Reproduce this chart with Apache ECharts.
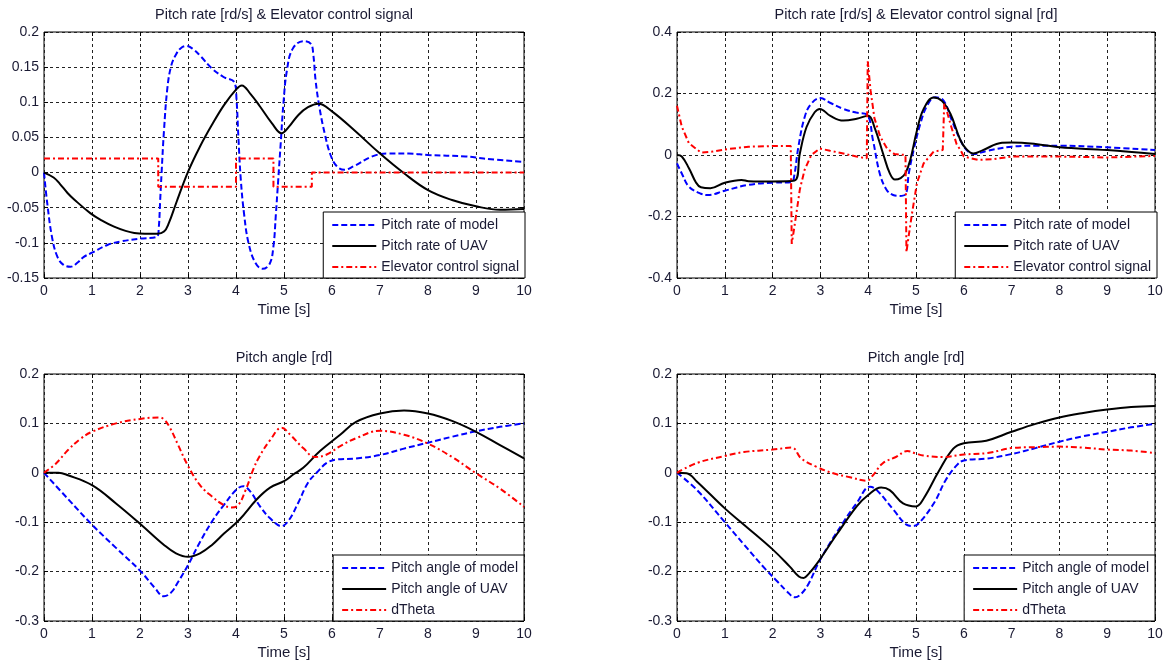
<!DOCTYPE html>
<html>
<head>
<meta charset="utf-8">
<script src="https://cdn.jsdelivr.net/npm/echarts@6/dist/echarts.min.js"></script>
<style>
html,body{margin:0;padding:0;background:#fff;}
#chart{width:1170px;height:664px;}
</style>
</head>
<body>
<div id="chart"></div>
<script>
// ---- tick labels ----
const xTicks = [0,1,2,3,4,5,6,7,8,9,10];
const yTicksTopLeft = [-0.15,-0.1,-0.05,0,0.05,0.1,0.15,0.2];
const yTicksTopRight = [-0.4,-0.2,0,0.2,0.4];
const yTicksBottom = [-0.3,-0.2,-0.1,0,0.1,0.2];

// ---- titles / legend names ----
const titles = ['Pitch rate [rd/s] & Elevator control signal','Pitch rate [rd/s] & Elevator control signal [rd]','Pitch angle [rd]','Pitch angle [rd]'];
const xName = 'Time [s]';
const rateNames = ['Pitch rate of model','Pitch rate of UAV','Elevator control signal'];
const angleNames = ['Pitch angle of model','Pitch angle of UAV','dTheta'];

// ---- top-left: pitch rate & elevator ----
const tlModel = [[0,0],[0.07,-0.045],[0.17,-0.093],[0.28,-0.12],[0.4,-0.131],[0.55,-0.134],[0.7,-0.128],[0.83,-0.12],[1,-0.114],[1.32,-0.103],[1.6,-0.098],[2,-0.094],[2.36,-0.091],[2.39,-0.08],[2.42,-0.04],[2.45,0],[2.5,0.06],[2.57,0.12],[2.65,0.152],[2.75,0.168],[2.85,0.177],[2.97,0.18],[3.1,0.176],[3.27,0.165],[3.5,0.148],[3.74,0.136],[3.97,0.128],[4.01,0.105],[4.05,0.05],[4.1,-0.01],[4.17,-0.06],[4.26,-0.1],[4.4,-0.128],[4.55,-0.137],[4.7,-0.13],[4.78,-0.105],[4.83,-0.06],[4.88,-0.01],[4.93,0.04],[4.99,0.1],[5.06,0.145],[5.18,0.176],[5.4,0.187],[5.56,0.183],[5.61,0.168],[5.66,0.13],[5.74,0.092],[5.85,0.055],[5.97,0.025],[6.1,0.009],[6.26,0.004],[6.45,0.009],[6.84,0.023],[7.15,0.027],[7.6,0.027],[8,0.025],[8.78,0.023],[9.16,0.02],[10,0.015]];
const tlUav = [[0,0],[0.2,-0.007],[0.33,-0.016],[0.49,-0.029],[0.64,-0.039],[0.97,-0.058],[1.2,-0.068],[1.46,-0.077],[1.7,-0.083],[1.88,-0.086],[2.1,-0.087],[2.36,-0.087],[2.5,-0.084],[2.6,-0.072],[2.75,-0.044],[3,0.001],[3.25,0.037],[3.5,0.068],[3.75,0.096],[4,0.118],[4.12,0.124],[4.3,0.112],[4.5,0.094],[4.75,0.07],[4.95,0.056],[5.1,0.065],[5.3,0.082],[5.5,0.093],[5.72,0.098],[6,0.087],[6.5,0.058],[7,0.027],[7.5,-0.001],[8,-0.025],[8.5,-0.039],[9,-0.048],[9.5,-0.053],[10,-0.052]];
const tlElev = [[0,0.02],[2.38,0.02],[2.38,-0.02],[4.0,-0.02],[4.0,0.02],[4.78,0.02],[4.78,-0.02],[5.58,-0.02],[5.58,0],[10,0]];

// ---- top-right ----
const trModel = [[0,-0.027],[0.1,-0.06],[0.25,-0.103],[0.5,-0.126],[0.65,-0.13],[1,-0.116],[1.5,-0.097],[2,-0.09],[2.4,-0.088],[2.45,-0.07],[2.54,0.027],[2.67,0.123],[2.8,0.165],[3,0.185],[3.2,0.17],[3.48,0.15],[3.75,0.138],[3.97,0.132],[4.1,0.048],[4.24,-0.059],[4.38,-0.112],[4.52,-0.13],[4.65,-0.133],[4.78,-0.128],[4.85,-0.059],[4.95,0.016],[5.09,0.101],[5.23,0.16],[5.4,0.188],[5.58,0.176],[5.75,0.112],[5.93,0.048],[6.05,0.018],[6.2,0.003],[6.5,0.014],[7,0.027],[7.5,0.03],[8,0.03],[9,0.025],[10,0.016]];
const trUav = [[0,0],[0.1,-0.005],[0.25,-0.043],[0.4,-0.09],[0.5,-0.105],[0.7,-0.108],[1,-0.09],[1.35,-0.081],[1.5,-0.085],[2,-0.086],[2.46,-0.083],[2.57,0.005],[2.71,0.091],[2.88,0.139],[2.99,0.15],[3.2,0.128],[3.48,0.112],[3.76,0.118],[4,0.128],[4.13,0.091],[4.31,0.005],[4.45,-0.059],[4.56,-0.08],[4.68,-0.075],[4.78,-0.059],[4.88,-0.016],[5.02,0.08],[5.16,0.15],[5.37,0.187],[5.54,0.176],[5.72,0.134],[5.93,0.048],[6.05,0.02],[6.2,0.005],[6.4,0.016],[6.8,0.04],[7,0.041],[7.5,0.036],[8,0.025],[9,0.016],[10,0.003]];
const trElev = [[0,0.16],[0.1,0.092],[0.25,0.038],[0.5,0.008],[0.75,0.011],[1,0.018],[1.5,0.027],[2,0.029],[2.38,0.029],[2.4,-0.289],[2.43,-0.26],[2.5,-0.187],[2.57,-0.112],[2.67,-0.048],[2.81,0],[2.99,0.021],[3.2,0.014],[3.48,0.005],[3.75,-0.005],[3.97,-0.011],[3.99,0.305],[4.05,0.21],[4.13,0.12],[4.25,0.06],[4.4,0.02],[4.55,0.003],[4.78,0],[4.8,-0.316],[4.85,-0.26],[4.92,-0.187],[5.02,-0.091],[5.16,-0.027],[5.37,0.011],[5.56,0.016],[5.59,0.166],[5.65,0.14],[5.72,0.101],[5.85,0.035],[5.93,0.016],[6.0,-0.005],[6.3,-0.016],[6.6,-0.014],[7,-0.005],[8,-0.005],[9,-0.008],[10,-0.003]];

// ---- bottom-left: pitch angle ----
const blModel = [[0,0],[0.5,-0.053],[1,-0.105],[1.5,-0.152],[2,-0.198],[2.3,-0.232],[2.5,-0.25],[2.65,-0.242],[2.8,-0.22],[3,-0.187],[3.25,-0.14],[3.53,-0.094],[3.75,-0.065],[4,-0.035],[4.15,-0.027],[4.3,-0.038],[4.5,-0.068],[4.71,-0.092],[4.95,-0.108],[5.1,-0.096],[5.3,-0.06],[5.5,-0.02],[5.68,0.0],[5.89,0.02],[6.1,0.027],[6.5,0.029],[7,0.036],[7.5,0.049],[8,0.061],[8.5,0.073],[9,0.084],[9.5,0.093],[10,0.1]];
const blUav = [[0,0],[0.3,0],[0.5,-0.005],[1,-0.025],[1.5,-0.062],[2,-0.103],[2.5,-0.146],[2.75,-0.163],[3,-0.17],[3.25,-0.163],[3.5,-0.146],[3.75,-0.123],[4.08,-0.094],[4.43,-0.054],[4.71,-0.03],[5,-0.017],[5.2,-0.003],[5.4,0.01],[5.75,0.044],[6.17,0.077],[6.5,0.103],[7,0.12],[7.5,0.126],[8,0.12],[8.5,0.105],[9,0.083],[9.5,0.056],[10,0.029]];
const blDtheta = [[0,0],[0.25,0.019],[0.5,0.046],[0.75,0.068],[1,0.083],[1.5,0.1],[2,0.109],[2.4,0.112],[2.5,0.108],[2.625,0.091],[2.8,0.055],[3,0.014],[3.25,-0.025],[3.5,-0.048],[3.74,-0.065],[3.9,-0.07],[4.03,-0.067],[4.2,-0.035],[4.36,0.007],[4.5,0.035],[4.71,0.066],[4.95,0.091],[5.15,0.075],[5.4,0.05],[5.65,0.032],[5.89,0.037],[6.17,0.054],[6.5,0.07],[7,0.085],[7.5,0.077],[8,0.059],[8.5,0.032],[9,-0.001],[9.5,-0.032],[10,-0.069]];

// ---- bottom-right ----
const brModel = [[0,0],[0.42,-0.035],[1,-0.1],[1.4,-0.145],[1.85,-0.195],[2.1,-0.22],[2.3,-0.24],[2.47,-0.252],[2.6,-0.245],[2.75,-0.225],[3,-0.175],[3.48,-0.1],[3.76,-0.061],[4.04,-0.028],[4.18,-0.035],[4.53,-0.075],[4.8,-0.105],[4.94,-0.108],[5.08,-0.1],[5.39,-0.059],[5.62,-0.015],[5.86,0.016],[6,0.025],[6.5,0.029],[7,0.038],[7.5,0.05],[8,0.063],[8.5,0.074],[9,0.083],[9.5,0.092],[10,0.099]];
const brUav = [[0,0],[0.2,-0.001],[0.42,-0.018],[1,-0.072],[1.4,-0.105],[2,-0.155],[2.36,-0.19],[2.55,-0.21],[2.65,-0.213],[2.75,-0.205],[2.92,-0.185],[3.34,-0.125],[3.76,-0.068],[4,-0.045],[4.27,-0.03],[4.45,-0.035],[4.73,-0.062],[5,-0.068],[5.16,-0.052],[5.47,0.002],[5.78,0.049],[6,0.06],[6.47,0.065],[7,0.083],[7.5,0.099],[8,0.112],[8.5,0.121],[9,0.128],[9.5,0.133],[10,0.135]];
const brDtheta = [[0,0],[0.42,0.02],[1,0.034],[1.4,0.042],[2,0.047],[2.4,0.051],[2.6,0.029],[2.92,0.012],[3.27,-0.001],[3.62,-0.009],[3.97,-0.016],[4.1,-0.005],[4.3,0.019],[4.58,0.032],[4.82,0.044],[5,0.039],[5.15,0.035],[5.57,0.032],[6,0.037],[6.5,0.04],[7,0.05],[7.5,0.052],[8,0.053],[8.5,0.051],[9,0.047],[9.5,0.045],[10,0.04]];

// ---- layout & styles ----
const FONT = 'Liberation Sans, Arial, sans-serif';
const TXT = '#1a1a33';
const grids = [
  {left:44, top:32, width:480, height:246},
  {left:677, top:32, width:478, height:246},
  {left:44, top:374, width:480, height:247},
  {left:677, top:374, width:478, height:247}
];
const yTickSets = [yTicksTopLeft, yTicksTopRight, yTicksBottom, yTicksBottom];
const styleModel = {color:'#0000ff', width:2, type:[6,3]};
const styleUav = {color:'#000000', width:2, type:'solid'};
const styleRed = {color:'#ff0000', width:2, type:[6,3,2,3]};

const xAxes = [], yAxes = [];
grids.forEach((g,i)=>{
  const xmin = xTicks[0], xmax = xTicks[xTicks.length-1], xint = xTicks[1]-xTicks[0];
  const yt = yTickSets[i];
  const ymin = yt[0], ymax = yt[yt.length-1], yint = +(yt[1]-yt[0]).toFixed(6);
  xAxes.push({
    type:'value', gridIndex:i, min:xmin, max:xmax, interval:xint, position:'bottom',
    name:xName, nameLocation:'middle', nameGap:24,
    nameTextStyle:{fontFamily:FONT, fontSize:15, color:TXT},
    axisLine:{show:false, onZero:false},
    axisTick:{show:true, inside:true, length:4, lineStyle:{color:'#000'}},
    axisLabel:{fontFamily:FONT, fontSize:14, color:TXT, margin:6},
    splitLine:{show:true, lineStyle:{color:'#222', width:1, type:[3,3]}}
  });
  xAxes.push({
    type:'value', gridIndex:i, min:xmin, max:xmax, interval:xint, position:'top',
    axisLine:{show:false, onZero:false},
    axisTick:{show:true, inside:true, length:4, lineStyle:{color:'#000'}},
    axisLabel:{show:false}, splitLine:{show:false}
  });
  yAxes.push({
    type:'value', gridIndex:i, min:ymin, max:ymax, interval:yint, position:'left',
    axisLine:{show:false, onZero:false},
    axisTick:{show:true, inside:true, length:4, lineStyle:{color:'#000'}},
    axisLabel:{fontFamily:FONT, fontSize:14, color:TXT, margin:5},
    splitLine:{show:true, lineStyle:{color:'#222', width:1, type:[3,3]}}
  });
  yAxes.push({
    type:'value', gridIndex:i, min:ymin, max:ymax, interval:yint, position:'right',
    axisLine:{show:false, onZero:false},
    axisTick:{show:true, inside:true, length:4, lineStyle:{color:'#000'}},
    axisLabel:{show:false}, splitLine:{show:false}
  });
});

function mk(name, data, gi, ls, smooth){
  return {type:'line', name:name, data:data, xAxisIndex:gi*2, yAxisIndex:gi*2,
    symbol:'none', smooth:smooth, lineStyle:ls, itemStyle:{color:ls.color},
    animation:false, silent:true, z:3};
}

const S = 0.4;
const series = [
  mk(rateNames[0], tlModel, 0, styleModel, S),
  mk(rateNames[1], tlUav, 0, styleUav, S),
  mk(rateNames[2], tlElev, 0, styleRed, false),
  mk(rateNames[0], trModel, 1, styleModel, S),
  mk(rateNames[1], trUav, 1, styleUav, S),
  mk(rateNames[2], trElev, 1, styleRed, false),
  mk(angleNames[0], blModel, 2, styleModel, S),
  mk(angleNames[1], blUav, 2, styleUav, S),
  mk(angleNames[2], blDtheta, 2, styleRed, S),
  mk(angleNames[0], brModel, 3, styleModel, S),
  mk(angleNames[1], brUav, 3, styleUav, S),
  mk(angleNames[2], brDtheta, 3, styleRed, S)
];

function lg(names, right, bottom){
  return {data:names, orient:'vertical', right:right, bottom:bottom,
    itemWidth:44, itemHeight:14, itemGap:7, padding:[6,6,4,8],
    borderColor:'#000', borderWidth:1, backgroundColor:'#fff', borderRadius:0,
    itemStyle:{opacity:0},
    selectedMode:false, textStyle:{fontFamily:FONT, fontSize:14, color:TXT}, z:10};
}

const titleCenters = [[284,7],[916,7],[284,350],[916,350]];
const option = {
  backgroundColor:'#fff',
  animation:false,
  title: titles.map((t,i)=>({text:t, left:titleCenters[i][0], top:titleCenters[i][1], textAlign:'center', padding:0,
    textStyle:{fontFamily:FONT, fontSize:14.5, fontWeight:'normal', color:TXT}})),
  grid: grids.map(g=>Object.assign({show:true, borderColor:'#000', borderWidth:1, backgroundColor:'#fff', containLabel:false}, g)),
  xAxis:xAxes, yAxis:yAxes,
  legend:[lg(rateNames,645,386), lg(rateNames,13,386), lg(angleNames,646,43), lg(angleNames,15,43)],
  series:series
};
const chart = echarts.init(document.getElementById('chart'), null, {renderer:'canvas'});
chart.setOption(option);
</script>
</body>
</html>
